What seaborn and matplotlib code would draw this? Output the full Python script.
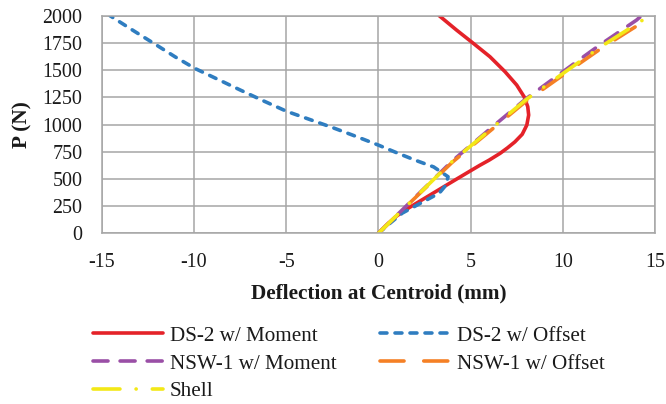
import matplotlib
matplotlib.use("Agg")
import matplotlib.pyplot as plt
import seaborn as sns
import pandas as pd

# Load–deflection curves at the section centroid
ds2_moment_x = [0, 0.5, 1.0, 1.5, 2.0, 3.0, 4.0, 5.0, 5.5, 6.0, 6.6, 7.0, 7.4, 7.8,
                8.05, 8.15, 8.1, 7.9, 7.5, 6.87, 6.05, 5.15, 4.24, 3.3]
ds2_moment_y = [0, 85, 160, 218, 270, 372, 474, 575, 625, 672, 735, 785, 840, 910,
                995, 1087, 1164, 1256, 1363, 1485, 1623, 1746, 1868, 2000]

ds2_offset_x = [0, 0.65, 1.3, 2.3, 3.3, 3.65, 3.78, 3.0, 2.0, 1.0, 0, -1.2, -2.44,
                -3.7, -4.97, -6.2, -7.5, -8.7, -9.94, -11.0, -12.0, -13.3, -14.55]
ds2_offset_y = [0, 95, 186, 278, 369, 440, 520, 610, 672, 740, 811, 890, 969,
                1045, 1121, 1215, 1318, 1415, 1515, 1620, 1727, 1865, 2000]

nsw_moment_x = [0, 1, 2, 3, 4, 5, 6, 7, 8, 9, 10, 11, 12, 13, 14, 14.2]
nsw_moment_y = [0, 166, 332, 498, 664, 808, 952, 1094, 1236, 1360, 1484, 1608, 1730,
                1845, 1960, 1990]

nsw_offset_x = [0, 1, 2, 3, 4, 5, 6, 7, 8, 9, 10, 11, 12, 13, 14, 14.6]
nsw_offset_y = [0, 164, 327, 490, 652, 793, 933, 1073, 1213, 1333, 1453, 1572, 1690,
                1798, 1905, 1975]

shell_x = [0, 1, 2, 3, 4, 5, 6, 7, 8, 9, 10, 11, 12, 13, 14, 14.5]
shell_y = [0, 165, 330, 495, 660, 802, 944, 1086, 1228, 1348, 1468, 1588, 1708,
           1816, 1924, 1978]

x_ticks = [-15, -10, -5, 0, 5, 10, 15]
y_ticks = [0, 250, 500, 750, 1000, 1250, 1500, 1750, 2000]

series = [
    ("DS-2 w/ Moment", ds2_moment_x, ds2_moment_y, "#E42229", "-"),
    ("DS-2 w/ Offset", ds2_offset_x, ds2_offset_y, "#2F7DC0", (0, (5.0, 5.8))),
    ("NSW-1 w/ Moment", nsw_moment_x, nsw_moment_y, "#9A4FA6", (0, (10.8, 8.7))),
    ("NSW-1 w/ Offset", nsw_offset_x, nsw_offset_y, "#F58025", (0, (17.3, 14.2))),
    ("Shell", shell_x, shell_y, "#F3E817", (0, (19.4, 11.6, 0.1, 11.6))),
]

sns.set_theme(style="white")
plt.rcParams["font.family"] = ["Liberation Serif", "DejaVu Serif"]
plt.rcParams["lines.scale_dashes"] = False

fig = plt.figure(figsize=(6.66, 4.04), dpi=100)
ax = fig.add_axes([0.1527, 0.4225, 0.8308, 0.5386])

for name, xs, ys, color, ls in series:
    df = pd.DataFrame({"x": xs, "y": ys})
    sns.lineplot(data=df, x="x", y="y", sort=False, estimator=None, errorbar=None,
                 color=color, linewidth=2.6, linestyle=ls, dash_capstyle="round",
                 solid_capstyle="round", label=name, ax=ax)

ax.set_xlim(-15, 15)
ax.set_ylim(0, 2000)
ax.set_xticks(x_ticks)
ax.set_yticks(y_ticks)
ax.set_xticklabels([str(v) for v in x_ticks])
ax.set_yticklabels([str(v) for v in y_ticks])
ax.grid(True, color="#A6A6A6", linewidth=1.1)
ax.set_axisbelow(True)
for sp in ax.spines.values():
    sp.set_visible(True)
    sp.set_color("#A6A6A6")
    sp.set_linewidth(1.1)
ax.tick_params(axis="both", length=0, labelsize=14.4, colors="#1a1a1a")
ax.tick_params(axis="x", pad=14.5)
ax.tick_params(axis="y", pad=14)

ax.set_xlabel("Deflection at Centroid (mm)", fontsize=15.3, fontweight="bold",
              color="#1a1a1a", labelpad=8)
ax.set_ylabel("P (N)", fontsize=15.3, fontweight="bold", color="#1a1a1a", labelpad=7)

handles, labels = ax.get_legend_handles_labels()
ax.get_legend().remove()
# two columns, filled row by row
order = [0, 2, 4, 1, 3]
fig.legend([handles[i] for i in order], [labels[i] for i in order], ncol=2,
           loc="upper left", bbox_to_anchor=(0.1396, 0.193),
           frameon=False, fontsize=15.2, handlelength=3.32, handletextpad=0.33,
           columnspacing=2.04, labelspacing=0.38, borderpad=0, borderaxespad=0,
           labelcolor="#1a1a1a")

fig.savefig("out.png", dpi=100)
